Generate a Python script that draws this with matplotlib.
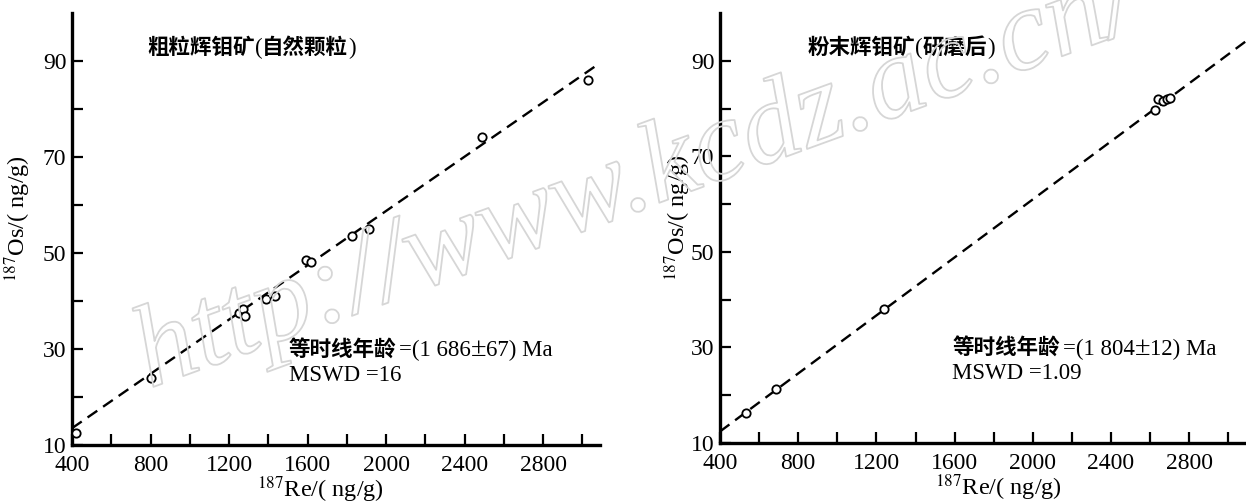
import matplotlib
matplotlib.use("Agg")
import matplotlib.pyplot as plt
import matplotlib.patheffects as pe
from matplotlib.transforms import offset_copy

plt.rcParams['font.family'] = ['Liberation Serif', 'Noto Sans CJK SC']
plt.rcParams['mathtext.fontset'] = 'stix'

# coarse-grained molybdenite (natural grains)
re_coarse = [420, 801, 1251, 1271, 1282, 1387, 1436, 1590, 1615, 1828, 1913, 2488, 3026]
os_coarse = [12.6, 24.0, 37.6, 38.3, 36.9, 40.4, 41.0, 48.5, 48.1, 53.5, 54.9, 74.1, 86.0]
line_coarse_x = [400, 3090]
line_coarse_y = [13.5, 89.6]

# powdered molybdenite (after grinding)
re_powder = [533, 686, 1239, 2627, 2640, 2665, 2685, 2700]
os_powder = [16.3, 21.2, 38.1, 79.7, 81.9, 81.6, 82.1, 82.2]
line_powder_x = [400, 3090]
line_powder_y = [12.4, 94.1]

# (text, kind) pieces
titles = [[("粗粒辉钼矿", 'cjk'), ("(", 'rm'), ("自然颗粒", 'cjk'), (")", 'rm')],
          [("粉末辉钼矿", 'cjk'), ("(", 'rm'), ("研磨后", 'cjk'), (")", 'rm')]]
ages = [[("等时线年龄", 'cjk'), ("=(1 686", 'rm'), ("±", 'pm'), ("67) Ma", 'rm')],
        [("等时线年龄", 'cjk'), ("=(1 804", 'rm'), ("±", 'pm'), ("12) Ma", 'rm')]]
mswd = ["MSWD =16", "MSWD =1.09"]

x_major = [400, 800, 1200, 1600, 2000, 2400, 2800]
x_minor = [600, 1000, 1400, 1800, 2200, 2600, 3000]
y_major = [10, 30, 50, 70, 90]
y_minor = [20, 40, 60, 80]

fig = plt.figure(figsize=(12.46, 5.03), dpi=100)
renderer = fig.canvas.get_renderer()
ax1 = fig.add_axes([0.0578, 0.1153, 0.4238, 0.8588])
ax2 = fig.add_axes([0.5778, 0.1193, 0.4222, 0.8549])


def rich_text(ax, x, y, pieces, size, gap):
    dx = 0
    for txt, kind in pieces:
        tr = offset_copy(ax.transAxes, fig=fig, x=dx, y=0, units='dots')
        if kind == 'cjk':
            t = ax.text(x, y, txt, transform=tr, fontsize=size, va='baseline',
                        family='Noto Sans CJK SC', weight='bold')
            dx += gap
        elif kind == 'pm':
            t = ax.text(x, y, txt, transform=tr, fontsize=size + 5, va='baseline',
                        family='Liberation Serif')
        else:
            t = ax.text(x, y, txt, transform=tr, fontsize=size + 1, va='baseline',
                        family='Liberation Serif')
        dx += t.get_window_extent(renderer).width


panels = [(ax1, re_coarse, os_coarse, line_coarse_x, line_coarse_y),
          (ax2, re_powder, os_powder, line_powder_x, line_powder_y)]
label_x = [(0.47, -0.074), (0.53, -0.052)]

for i, (ax, xs, ys, lx, ly) in enumerate(panels):
    ax.plot(lx, ly, color='black', lw=1.7, dashes=(5, 3), zorder=2)
    ax.plot(xs, ys, 'o', mfc='white', mec='black', ms=6, mew=1.3, zorder=3)
    ax.set_xlim(400, 3090)
    ax.set_ylim(10, 100)
    ax.set_xticks(x_major)
    ax.set_xticks(x_minor, minor=True)
    ax.set_yticks(y_major)
    ax.set_yticks(y_minor, minor=True)
    ax.tick_params(which='both', direction='in', length=8, width=1.6,
                   labelsize=17, top=False, right=False)
    ax.tick_params(axis='x', pad=7)
    ax.tick_params(axis='y', pad=4)
    for s in ['top', 'right']:
        ax.spines[s].set_visible(False)
    for s in ['left', 'bottom']:
        ax.spines[s].set_linewidth(2.4)
    ax.set_xlabel(r"$^{187}$Re/( ng/g)", fontsize=17.5)
    ax.set_ylabel(r"$^{187}$Os/( ng/g)", fontsize=17.5)
    ax.xaxis.set_label_coords(label_x[i][0], -0.069)
    ax.yaxis.set_label_coords(label_x[i][1], 0.525)
    x0 = 0.142 if i == 0 else 0.166
    rich_text(ax, x0, 0.905, titles[i], 15.5, 0)
    xa = 0.41 if i == 0 else 0.442
    rich_text(ax, xa, 0.205, ages[i], 15.5, 3)
    ax.text(xa, 0.148, mswd[i], transform=ax.transAxes, fontsize=16.5,
            va='baseline', family='Liberation Serif')

# watermark
fig.text(0.12, 0.228, "http://www.kcdz.ac.cn/", fontsize=84, style='italic',
         family='Liberation Serif', color=(1, 1, 1, 0), rotation=20,
         rotation_mode='anchor', ha='left', va='baseline', zorder=0.5,
         path_effects=[pe.Stroke(linewidth=1.3, foreground='#d6d6d6'), pe.Normal()])

fig.savefig("out.png", dpi=100)
